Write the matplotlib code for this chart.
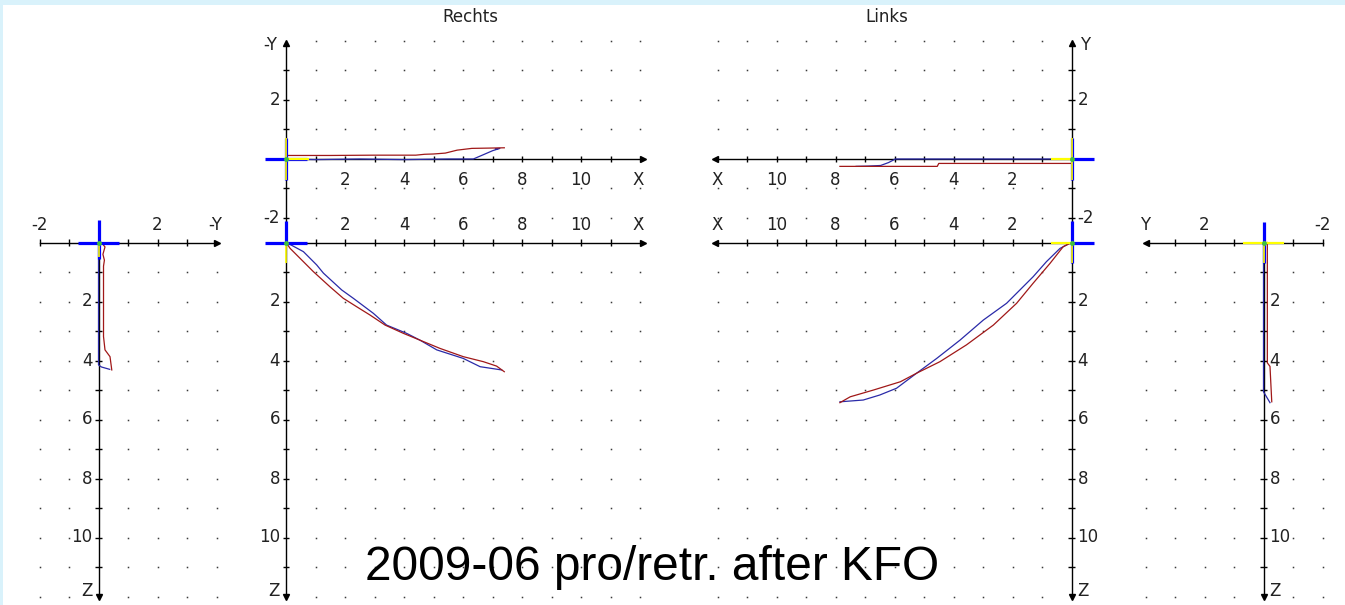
import matplotlib.pyplot as plt
from matplotlib.patches import Rectangle

W, H = 1345, 605
S = 29.5  # pixel per mm

# ---- Rechts: top view (X / -Y) ----
re_top_blue_x = [0, 1.0, 2.5, 4.0, 5.5, 6.35, 6.7, 7.0, 7.25, 7.1]
re_top_blue_y = [0, -0.02, 0, -0.02, 0, 0, 0.15, 0.28, 0.36, 0.35]
re_top_red_x = [0, 1.5, 3.0, 4.4, 4.7, 5.0, 5.4, 5.8, 6.3, 6.9, 7.4]
re_top_red_y = [0.12, 0.12, 0.13, 0.13, 0.16, 0.17, 0.2, 0.3, 0.36, 0.37, 0.38]

# ---- Rechts: side view (X / Z) ----
re_side_blue_x = [0, 0.2, 0.59, 1.04, 1.27, 1.89, 2.28, 2.96, 3.41, 4.09, 4.54, 5.11, 6.01, 6.58, 7.31]
re_side_blue_z = [0, 0.1, 0.31, 0.76, 1.04, 1.61, 1.89, 2.4, 2.8, 3.08, 3.31, 3.64, 3.93, 4.21, 4.32]
re_side_red_x = [0, 0.14, 0.59, 0.93, 1.49, 1.94, 2.4, 2.85, 3.36, 3.98, 4.54, 5.22, 6.01, 6.69, 7.14, 7.4]
re_side_red_z = [0, 0.2, 0.65, 0.99, 1.5, 1.89, 2.18, 2.46, 2.8, 3.08, 3.31, 3.59, 3.87, 4.04, 4.19, 4.38]

# ---- Rechts: front view (-Y / Z) ----
re_front_blue_y = [0, 0, 0, 0.1, 0.38]
re_front_blue_z = [0, 2.0, 4.15, 4.22, 4.3]
re_front_red_y = [0.1, 0.22, 0.15, 0.2, 0.17, 0.17, 0.22, 0.39, 0.45]
re_front_red_z = [0, 0.15, 0.4, 0.6, 0.8, 3.19, 3.64, 3.87, 4.32]

# ---- Links: top view (X / Y) ----
li_top_blue_x = [0, 2.0, 4.0, 5.97, 6.2, 6.47, 6.9, 7.3]
li_top_blue_y = [0, 0, 0, 0, -0.12, -0.22, -0.24, -0.25]
li_top_red_x = [0, 2.0, 4.5, 4.55, 6.0, 7.85]
li_top_red_y = [-0.15, -0.15, -0.15, -0.25, -0.25, -0.25]

# ---- Links: side view (X / Z) ----
li_side_blue_x = [0, 0.39, 0.85, 1.3, 1.75, 2.2, 2.99, 3.78, 4.57, 5.25, 5.93, 6.5, 7.06, 7.85]
li_side_blue_z = [0, 0.2, 0.65, 1.16, 1.61, 2.06, 2.63, 3.31, 3.93, 4.43, 4.94, 5.17, 5.34, 5.4]
li_side_red_x = [0, 0.28, 0.73, 1.3, 1.86, 2.65, 3.56, 4.46, 5.25, 5.8, 6.71, 7.5, 7.85]
li_side_red_z = [0, 0.14, 0.71, 1.38, 2.06, 2.8, 3.47, 4.04, 4.43, 4.72, 5.0, 5.23, 5.43]

# ---- Links: front view (Y / Z) ----
li_front_blue_y = [0, 0, 0, -0.22]
li_front_blue_z = [0, 2.5, 5.06, 5.43]
li_front_red_y = [-0.13, -0.13, -0.22, -0.28]
li_front_red_z = [0, 4.08, 4.2, 5.4]

BLUE = '#2a2aa8'
RED = '#a01818'
TXT = dict(fontsize=12, color='#222222', family='DejaVu Sans')

fig = plt.figure(figsize=(W / 100, H / 100), dpi=100, facecolor='#d9f2fb')
fig.add_artist(Rectangle((3 / W, 0), 1, 1 - 5 / H, transform=fig.transFigure,
                         facecolor='white', edgecolor='none', zorder=0))


def make_panel(ox, oy, xdir, ydir):
    ax = fig.add_axes([0, 0, 1, 1])
    ax.set_axis_off()
    x0, x1 = -ox / S, (W - ox) / S
    if xdir < 0:
        x0, x1 = -x0, -x1
    ax.set_xlim(x0, x1)
    yb, yt = -(H - oy) / S, oy / S
    if ydir < 0:
        yb, yt = -yb, -yt
    ax.set_ylim(yb, yt)
    return ax


def draw_frame(ax, xdir, ydir, hspan, vspan, dot_cols, dot_rows):
    d = 3.2 / S
    # grid dots
    xs = [c for c in dot_cols for r in dot_rows]
    ys = [r for c in dot_cols for r in dot_rows]
    ax.plot(xs, ys, ls='none', marker='s', ms=1.1, mec='none', mfc='#3a3a3a')
    # horizontal axis
    ax.plot(hspan, [0, 0], color='black', lw=1.0)
    ht = [t for t in range(int(hspan[0]), int(hspan[1]) + 1) if t != 0 and t < hspan[1] - 0.3]
    ax.vlines(ht, -d, d, color='black', lw=1.0)
    ax.plot(hspan[1], 0, marker='>' if xdir > 0 else '<', ms=4.5, color='black')
    # vertical axis
    ax.plot([0, 0], vspan, color='black', lw=1.0)
    vt = [t for t in range(int(min(vspan)), int(max(vspan)) + 1) if t != 0 and abs(t) < abs(vspan[1]) - 0.3]
    ax.hlines(vt, -d, d, color='black', lw=1.0)
    end_up = (vspan[1] > 0) == (ydir > 0)
    ax.plot(0, vspan[1], marker='^' if end_up else 'v', ms=4.5, color='black')


def cross(ax, blue_h, blue_v, yel_h, yel_v):
    a = 0.7
    ax.plot([blue_h[0] * a, blue_h[1] * a], [0, 0], color='#0000ff', lw=2.3, solid_capstyle='butt', zorder=5)
    ax.plot([0, 0], [blue_v[0] * a, blue_v[1] * a], color='#0000ff', lw=2.3, solid_capstyle='butt', zorder=5)
    if yel_h:
        ax.plot([yel_h[0] * a, yel_h[1] * a], [0, 0], color='#ffff00', lw=1.6, solid_capstyle='butt', zorder=6)
    if yel_v:
        ax.plot([0, 0], [yel_v[0] * a, yel_v[1] * a], color='#ffff00', lw=1.2, solid_capstyle='butt', zorder=6)
    ax.plot(0, 0, marker='o', ms=2.5, color='#40c040', zorder=7)


def curves(ax, bx, by, rx, ry):
    ax.plot(bx, by, color=BLUE, lw=0.9, zorder=3)
    ax.plot(rx, ry, color=RED, lw=0.9, zorder=4)


rows_top = [-2, -1, 1, 2, 3, 4]
rows_low = list(range(1, 13))
cols_x = list(range(1, 13))

# Panel A: Rechts front
ax = make_panel(98.5, 242.5, 1, -1)
draw_frame(ax, 1, -1, [-2, 4], [0, 12], [-2, -1, 1, 2, 3, 4], rows_low)
for t, s in [(-2, '-2'), (2, '2'), (3.95, '-Y')]:
    ax.text(t, -0.6, s, ha='center', va='center', **TXT)
for t, s in [(2, '2'), (4, '4'), (6, '6'), (8, '8'), (10, '10'), (11.8, 'Z')]:
    ax.text(-0.2, t, s, ha='right', va='center', **TXT)
cross(ax, (-1, 1), (-1.1, 0.8), None, (0, 0.7))
curves(ax, re_front_blue_y, re_front_blue_z, re_front_red_y, re_front_red_z)

# Panel B: Rechts top
ax = make_panel(286, 159, 1, 1)
draw_frame(ax, 1, 1, [0, 12.1], [-2.8, 3.93], cols_x, rows_top)
for t in range(2, 12, 2):
    ax.text(t, -0.72, str(t), ha='center', va='center', **TXT)
ax.text(11.95, -0.72, 'X', ha='center', va='center', **TXT)
for t, s in [(2, '2'), (-2, '-2')]:
    ax.text(-0.2, t, s, ha='right', va='center', **TXT)
ax.text(-0.3, 3.85, '-Y', ha='right', va='center', **TXT)
cross(ax, (-1, 1), (-1, 1), (0, 1.1), (-1, 1))
curves(ax, re_top_blue_x, re_top_blue_y, re_top_red_x, re_top_red_y)

# Panel C: Rechts side
ax = make_panel(286, 242.5, 1, -1)
draw_frame(ax, 1, -1, [0, 12.1], [0, 12], cols_x, rows_low)
for t in range(2, 12, 2):
    ax.text(t, -0.6, str(t), ha='center', va='center', **TXT)
ax.text(11.95, -0.6, 'X', ha='center', va='center', **TXT)
for t in range(2, 12, 2):
    ax.text(-0.2, t, str(t), ha='right', va='center', **TXT)
ax.text(-0.2, 11.8, 'Z', ha='right', va='center', **TXT)
cross(ax, (-1, 1), (-1.05, 0), None, (0, 1.0))
curves(ax, re_side_blue_x, re_side_blue_z, re_side_red_x, re_side_red_z)

# Panel D: Links top
ax = make_panel(1071.5, 159, -1, 1)
draw_frame(ax, -1, 1, [0, 12.1], [-2.8, 3.93], cols_x, rows_top)
for t in range(2, 12, 2):
    ax.text(t, -0.72, str(t), ha='center', va='center', **TXT)
ax.text(12.0, -0.72, 'X', ha='center', va='center', **TXT)
for t, s in [(2, '2'), (-2, '-2')]:
    ax.text(-0.2, t, s, ha='left', va='center', **TXT)
ax.text(-0.3, 3.85, 'Y', ha='left', va='center', **TXT)
cross(ax, (0, -1.1), (-1, 1), (0, 1.0), (-1, 1))
curves(ax, li_top_blue_x, li_top_blue_y, li_top_red_x, li_top_red_y)

# Panel E: Links side
ax = make_panel(1071.5, 242.5, -1, -1)
draw_frame(ax, -1, -1, [0, 12.1], [0, 12], cols_x, rows_low)
for t in range(2, 12, 2):
    ax.text(t, -0.6, str(t), ha='center', va='center', **TXT)
ax.text(12.0, -0.6, 'X', ha='center', va='center', **TXT)
for t in range(2, 12, 2):
    ax.text(-0.2, t, str(t), ha='left', va='center', **TXT)
ax.text(-0.2, 11.8, 'Z', ha='left', va='center', **TXT)
cross(ax, (0, -1.1), (-1.05, 1.0), (0, 1.0), (0, 1.0))
curves(ax, li_side_blue_x, li_side_blue_z, li_side_red_x, li_side_red_z)

# Panel F: Links front
ax = make_panel(1263.5, 242.5, -1, -1)
draw_frame(ax, -1, -1, [-2, 4], [0, 12], [-2, -1, 1, 2, 3, 4], rows_low)
for t, s in [(-2, '-2'), (2, '2'), (4.0, 'Y')]:
    ax.text(t, -0.6, s, ha='center', va='center', **TXT)
for t in range(2, 12, 2):
    ax.text(-0.2, t, str(t), ha='left', va='center', **TXT)
ax.text(-0.2, 11.8, 'Z', ha='left', va='center', **TXT)
cross(ax, (0, 0), (-1.0, 1.0), (-1, 1), (0, 1.0))
curves(ax, li_front_blue_y, li_front_blue_z, li_front_red_y, li_front_red_z)

fig.text(470 / W, 1 - 17 / H, 'Rechts', ha='center', va='center', **TXT)
fig.text(887 / W, 1 - 17 / H, 'Links', ha='center', va='center', **TXT)
fig.text(652 / W, 1 - 580 / H, '2009-06 pro/retr. after KFO', ha='center', va='baseline',
         fontsize=34.5, family='Liberation Sans', color='black')

fig.savefig('out.png', dpi=100, facecolor=fig.get_facecolor())
